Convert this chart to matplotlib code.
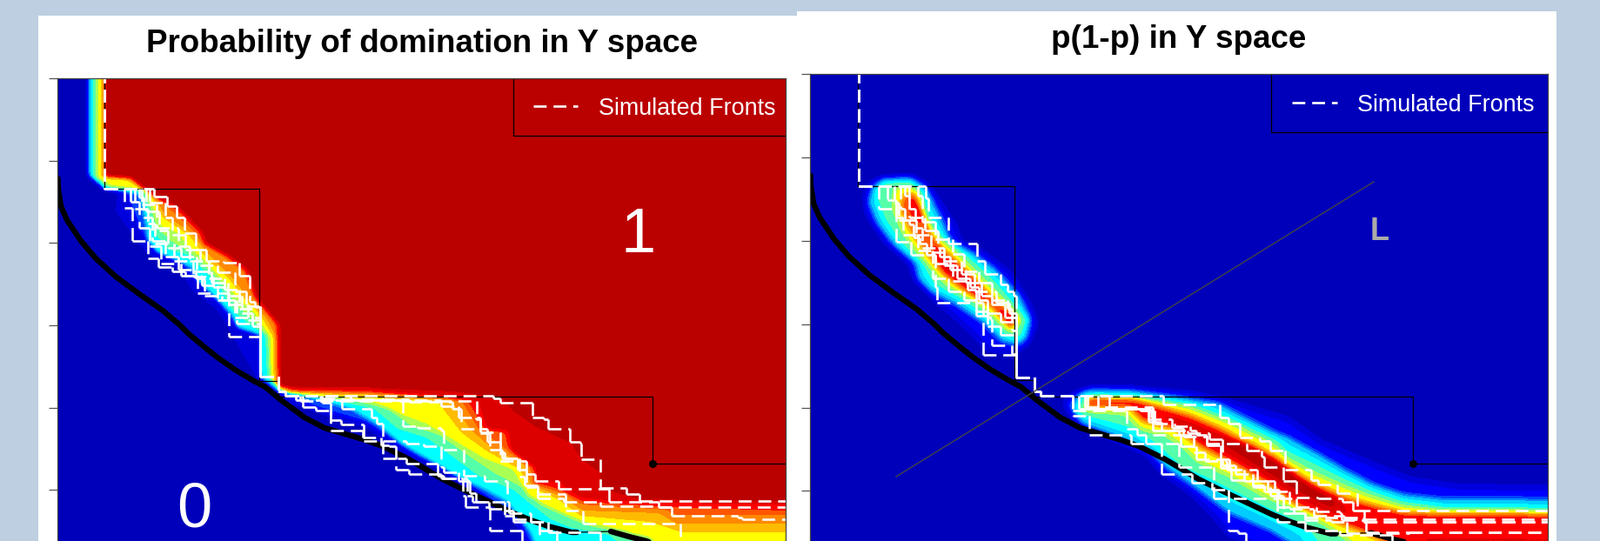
import numpy as np
import matplotlib
matplotlib.use("Agg")
import matplotlib.pyplot as plt
from matplotlib.patches import Rectangle
from matplotlib.path import Path
from matplotlib.colors import ListedColormap
from matplotlib.collections import LineCollection

W, H = 1839, 622
plt.rcParams['font.family'] = ['Liberation Sans', 'DejaVu Sans']

# ---------- shared values (axis units of the left panel)
y_ticks_1 = [90, 184.5, 279, 374, 468.6, 563]
y_ticks_2 = [85, 181, 277, 373, 468.6, 564]
true_front_a = [(66.5,205),(67,217),(70,237),(77,253),(93,277),(110,297),(133,318),(160,338),(187,357),(207,374),(217,384),(235,399),(250,411),(270,425),(290,437),
                (305,445),(323,460),(350,480),(373,492),(417,505),(440,513),(470,528),(507,550),(533,563),(590,590),(610,598),(630,605),(657,612),(663,612)]
true_front_b = [(663,612),(702,611)]
true_front_c = [(702,611),(723,617),(743,622),(790,640)]
emp_x = [120,120,298,320,750,903]
emp_y = [80,217,438,456,532.5,532.5]
dot = (750,532.5)

# ---------- colour scale: 16 steps
scale_colors = ["#0000BB","#0000DD","#0000FF","#0044FF","#0088FF","#00CCFF","#00FFFF","#55FFAA","#AAFF55",
                "#FFFF00","#FFBB00","#FF8800","#FF5500","#FF0000","#DD0000","#BB0000"]

# ---------- left panel: edges of the colour bands (p levels)
band_levels_1 = [1,3,6,7,8,9,10,11,12,13,14,15]
edge_outer = [(99,80),(99,201),(118,216),(135,223),(133,243),(150,267),(170,293),(207,310),(220,333),(250,357),(260,373),(296,437),(302,444),(329,464),(347,468),(380,480),(423,493),(463,523),(507,540),(533,560),(573,583),(592,603),(610,640)]
edge_blue = [(101,80),(101,202),(119,217),(145,220),(153,243),(160,260),(170,280),(203,297),(217,313),(250,347),(263,363),(273,377),(298,386),(298,434),(318,448),(345,462),(375,472),(420,485),(450,505),(480,525),(520,543),(550,565),(580,585),(600,605),(615,640)]
edge_cyan = [(103,80),(103,202),(120,217),(160,223),(167,253),(170,277),(180,290),(220,307),(227,323),(253,347),(267,363),(273,377),(299,385),(299,432),(320,450),(346,456),(367,460),(403,470),(437,490),(460,510),(490,527),(523,547),(557,563),(583,577),(608,610),(622,640)]
edge_green = [(107,80),(107,203),(122,216),(163,220),(172,247),(177,267),(193,287),(217,293),(230,307),(253,330),(267,357),(287,373),(305,385),(308,432),(323,450),(383,460),(430,470),(457,493),(490,503),(523,527),(550,547),(590,563),(607,577),(633,597),(657,607),(700,615),(730,640)]
edge_lime = [(110,80),(110,203),(125,215),(165,219),(176,247),(181,263),(198,278),(218,290),(232,302),(257,328),(270,350),(290,367),(308,387),(310,434),(325,450),(405,460),(447,470),(473,490),(505,500),(540,525),(570,545),(600,560),(620,580),(650,593),(680,605),(720,612),(745,640)]
edge_yellow = [(112,80),(112,203),(127,214),(167,218),(180,247),(185,260),(203,267),(220,287),(233,297),(260,327),(273,343),(293,360),(311,389),(311,436),(326,450),(430,463),(463,477),(490,487),(523,507),(557,527),(590,540),(597,553),(607,570),(640,587),(670,600),(747,617),(765,640)]
edge_amber = [(117,80),(117,203),(145,205),(173,223),(187,250),(217,270),(227,283),(237,297),(263,320),(280,343),(300,363),(315,390),(315,440),(330,452),(420,455),(503,462),(530,497),(557,517),(580,530),(598,540),(605,557),(640,573),(667,593),(747,600),(783,612),(903,612)]
edge_orange = [(118,80),(118,203),(148,205),(175,224),(190,248),(220,268),(230,280),(240,293),(265,317),(283,340),(305,365),(317,385),(317,441),(335,451),(420,453),(517,458),(540,493),(567,517),(603,533),(610,557),(643,570),(670,587),(757,590),(777,602),(903,602)]
edge_deep = [(119,80),(119,203),(149,205),(162,216),(177,225),(198,243),(225,268),(232,280),(258,295),(280,312),(292,342),(316,372),(319,442),(338,450),(420,452),(530,460),(550,493),(587,520),(610,538),(613,557),(647,567),(670,580),(763,585),(777,592),(903,592)]
edge_red = [(120,80),(120,203),(150,205),(163,216),(178,226),(205,241),(230,268),(234,280),(259,294),(282,311),(293,342),(318,373),(320,443),(340,449),(420,450),(537,460),(557,493),(580,497),(585,517),(615,540),(615,555),(640,562),(670,577),(763,583),(903,587)]
edge_dd = [(121,80),(121,203),(151,205),(164,216),(179,226),(206,240),(232,268),(236,280),(260,293),(283,310),(294,342),(320,373),(321,444),(342,448),(420,448),(540,459),(550,462),(560,493),(585,495),(588,517),(615,537),(617,553),(643,555),(667,572),(707,576),(903,579)]
edge_bb = [(122,80),(122,203),(152,205),(165,216),(180,226),(207,240),(233,268),(237,280),(262,293),(285,310),(295,342),(322,375),(322,445),(420,446),(523,450),(577,458),(590,473),(615,490),(657,510),(668,528),(690,543),(690,561),(737,575),(903,577)]
band_edges_1 = [edge_outer,edge_blue,edge_cyan,edge_green,edge_lime,edge_yellow,edge_amber,edge_orange,edge_deep,edge_red,edge_dd,edge_bb]

# ---------- left panel: simulated fronts (stair corners)
start_1 = [(120,80),(120,217)]
mid_1 = [(299,433),(320,450),(328,455)]
up_a = [(177,226),(192,237),(203,250),(212,268),(225,287),(237,300),(257,302),(275,317),(287,347),(293,353)]
up_b = [(143,239),(152,277),(170,297),(182,307),(198,312),(213,317),(227,337),(253,337),(263,387)]
up_c = [(160,227),(165,250),(175,277),(190,295),(205,310),(225,320),(235,340),(255,345),(270,365)]
up_d = [(163,235),(180,262),(205,283),(218,300),(240,320),(258,333),(275,355)]
up_e = [(155,240),(170,257),(178,280),(200,300),(222,318),(245,330),(262,350),(285,368)]
up_f = [(172,233),(190,250),(198,270),(213,287),(230,305),(250,313),(270,335),(283,352)]
up_g = [(168,243),(183,265),(193,285),(208,295),(226,312),(243,325),(262,340),(278,360),(290,375)]
up_h = [(150,232),(160,262),(172,283),(185,303),(208,317),(232,328),(250,345),(272,372)]
low_p = [(567,458),(575,463),(612,480),(625,482),(630,493),(655,508),(667,510),(668,528),(690,561),(720,568),(735,576),(903,576)]
low_q = [(345,461),(548,480),(552,497),(575,520),(580,527),(597,548),(603,558),(618,573),(648,577),(690,582),(757,583),(903,583)]
low_r = [(340,460),(507,467),(527,480),(547,482),(552,498),(563,517),(577,527),(595,540),(605,560),(618,568),(650,587),(670,602),(782,640)]
low_s = [(370,459),(470,462),(520,470),(530,493),(560,508),(575,530),(605,545),(615,553),(642,562),(700,577),(757,583),(772,593),(848,595),(853,597),(903,597)]
low_t = [(348,468),(363,472),(380,495),(417,503),(438,512),(447,513),(455,540),(470,545),(507,550),(532,570),(535,583),(563,610),(600,640)]
low_u = [(368,458),(370,463),(380,483),(392,488),(418,507),(440,527),(457,527),(467,533),(503,547),(510,550),(537,570),(543,577),(580,593),(590,597),(610,600),(620,640)]
low_v = [(370,458),(393,470),(427,480),(433,487),(440,507),(467,510),(487,513),(507,537),(510,543),(527,553),(540,567),(547,577),(562,585),(580,587),(590,600),(620,610),(640,640)]
low_w = [(403,460),(463,490),(480,492),(507,495),(510,517),(533,547),(557,553),(583,577),(585,590),(610,600),(630,612),(690,640)]
fronts_1 = [start_1+u+mid_1+l for u,l in zip([up_a,up_b,up_c,up_d,up_e,up_f,up_g,up_h],[low_p,low_t,low_q,low_v,low_r,low_s,low_w,low_u])]

# ---------- right panel: colour bands (own axis units)
blob_levels = [1.6,5.5,7,9,12,14,14]
blob_outer = [(1015,203),(1048,202),(1068,213),(1085,237),(1098,257),(1105,277),(1132,290),(1162,313),(1185,350),(1192,373),(1182,397),(1165,407),(1135,403),(1102,370),(1075,347),(1052,323),(1042,300),(1015,277),(995,247),(993,223),(1002,208)]
blob_cyan = [(1015,205),(1048,204),(1065,215),(1075,237),(1085,257),(1093,277),(1118,290),(1145,310),(1172,340),(1185,367),(1180,390),(1170,397),(1152,393),(1128,370),(1098,350),(1072,337),(1055,320),(1052,303),(1028,283),(1008,257),(998,233),(1002,215)]
blob_green = [(1018,208),(1045,208),(1060,220),(1068,247),(1082,270),(1112,293),(1142,320),(1165,347),(1182,367),(1175,387),(1165,390),(1152,383),(1128,360),(1098,340),(1072,327),(1060,303),(1035,280),(1017,253),(1008,230),(1008,217)]
blob_yellow = [(1028,215),(1048,214),(1057,223),(1063,250),(1075,270),(1102,293),(1135,327),(1162,353),(1173,368),(1163,383),(1152,373),(1122,347),(1092,330),(1072,310),(1052,287),(1038,267),(1027,240)]
blob_orange = [(1038,225),(1050,222),(1060,243),(1072,273),(1095,297),(1128,330),(1158,357),(1170,368),(1160,377),(1142,353),(1112,337),(1082,313),(1062,287),(1048,267),(1035,240)]
blob_red_a = [(1045,228),(1052,227),(1060,247),(1063,257),(1057,255),(1047,243)]
blob_red_b = [(1072,270),(1082,293),(1105,307),(1128,330),(1135,347),(1162,360),(1170,368),(1162,375),(1142,353),(1118,337),(1085,313),(1075,290)]
blob_polys = [blob_outer,blob_cyan,blob_green,blob_yellow,blob_orange,blob_red_a,blob_red_b]

ridge_levels = [1.6,5.5,7,9,13.5]
ridge_outer_up = [(1223,460),(1237,450),(1253,446),(1300,445),(1367,450),(1413,460),(1453,472),(1480,480),(1520,507),(1573,530),(1623,550),(1680,558),(1850,560)]
ridge_outer_lo = [(1223,467),(1237,487),(1277,505),(1317,523),(1333,543),(1367,567),(1393,593),(1413,617),(1433,622),(1450,640)]
ridge_cyan_up = [(1240,452),(1253,447),(1297,448),(1347,455),(1400,463),(1427,477),(1467,497),(1480,502),(1513,520),(1547,540),(1580,557),(1613,568),(1660,573),(1850,574)]
ridge_cyan_lo = [(1230,467),(1243,487),(1287,503),(1320,518),(1343,540),(1373,560),(1413,590),(1460,610),(1485,625),(1500,640)]
ridge_green_up = [(1247,455),(1310,455),(1367,463),(1413,480),(1467,505),(1480,517),(1513,533),(1547,550),(1580,565),(1613,576),(1660,583),(1850,584)]
ridge_green_lo = [(1235,475),(1253,480),(1300,493),(1327,510),(1357,537),(1387,550),(1433,573),(1467,590),(1500,605),(1515,625),(1535,640)]
ridge_yellow_up = [(1250,457),(1310,457),(1367,468),(1417,487),(1467,513),(1480,528),(1513,545),(1547,560),(1580,572),(1613,582),(1660,587),(1850,588)]
ridge_yellow_lo = [(1247,473),(1293,475),(1310,493),(1340,500),(1360,513),(1377,530),(1413,547),(1453,570),(1500,590),(1530,607),(1555,625),(1570,640)]
ridge_red_up = [(1250,458),(1300,459),(1367,478),(1400,492),(1467,527),(1480,540),(1513,558),(1547,573),(1580,582),(1613,590),(1660,591),(1850,592)]
ridge_red_lo = [(1250,467),(1300,468),(1313,483),(1353,493),(1380,513),(1413,530),(1460,557),(1490,580),(1530,597),(1570,612),(1597,625),(1620,640)]
ridge_core = [(1340,480),(1360,488),(1400,503),(1440,512),(1480,537),(1510,560),(1540,578),(1530,585),(1490,565),(1450,540),(1410,515),(1370,497)]
ridge_pairs = [(ridge_outer_up,ridge_outer_lo),(ridge_cyan_up,ridge_cyan_lo),(ridge_green_up,ridge_green_lo),(ridge_yellow_up,ridge_yellow_lo),(ridge_red_up,ridge_red_lo)]

# ---------- right panel: simulated fronts
start_2 = [(987,80),(987,214)]
mid_2 = [(1168,434),(1189,450),(1196,455)]
up2_a = [(1064,228),(1067,250),(1090,280),(1123,300),(1132,315),(1150,327),(1158,335),(1165,340)]
up2_b = [(1010,240),(1030,278),(1047,293),(1075,330),(1077,348),(1130,408)]
up2_c = [(1028,233),(1033,253),(1045,258),(1050,273),(1057,280),(1065,293),(1075,303),(1095,323),(1112,333),(1122,363),(1138,367),(1140,397),(1163,407)]
up2_d = [(1035,240),(1040,253),(1053,270),(1070,290),(1085,305),(1100,320),(1115,330),(1125,345),(1135,360),(1150,370)]
up2_e = [(1045,240),(1052,262),(1060,285),(1080,295),(1092,310),(1110,325),(1128,340),(1140,350),(1155,365)]
up2_f = [(1040,225),(1045,250),(1063,265),(1078,285),(1085,300),(1105,315),(1120,335),(1145,348),(1160,360)]
up2_g = [(1020,230),(1030,250),(1038,270),(1055,288),(1072,320),(1090,335),(1108,345),(1122,358),(1135,375),(1150,385)]
up2_h = [(1055,225),(1060,255),(1075,275),(1095,292),(1108,312),(1125,325),(1140,345),(1158,355),(1163,380)]
low2_a = [(1337,465),(1402,480),(1412,487),(1425,503),(1448,507),(1460,518),(1477,540),(1507,552),(1515,557),(1537,567),(1560,587),(1790,587.7)]
low2_b = [(1233,478),(1252,500),(1300,510),(1335,545),(1370,555),(1393,563),(1412,610),(1423,613),(1432,640)]
low2_c = [(1233,472),(1295,493),(1307,500),(1317,510),(1355,537),(1395,573),(1468,600),(1500,610),(1540,615),(1600,625),(1790,626)]
low2_d = [(1240,470),(1323,480),(1325,500),(1357,513),(1375,528),(1403,538),(1415,552),(1440,558),(1453,565),(1468,583),(1487,590),(1500,595),(1567,597),(1790,599)]
low2_e = [(1250,470),(1310,472),(1320,482),(1347,492),(1360,502),(1387,512),(1403,528),(1413,540),(1445,553),(1457,563),(1470,573),(1490,583),(1513,588),(1540,590),(1542,598),(1567,600),(1790,601)]
low2_f = [(1262,470),(1313,472),(1327,487),(1350,490),(1368,495),(1375,500),(1387,510),(1433,518),(1450,525),(1453,537),(1475,553),(1490,572),(1515,573),(1543,577),(1555,587),(1568,600),(1790,600)]
low2_g = [(1247,468),(1325,495),(1365,498),(1390,505),(1405,535),(1420,545),(1440,560),(1460,570),(1475,590),(1500,598),(1530,600),(1548,613),(1620,612),(1790,613)]
low2_h = [(1275,470),(1320,485),(1335,495),(1355,500),(1372,520),(1385,530),(1410,540),(1430,553),(1465,565),(1482,585),(1510,593),(1545,597),(1570,612),(1620,612),(1790,614)]
fronts_2 = [start_2+u+mid_2+l for u,l in zip([up2_a,up2_b,up2_c,up2_d,up2_e,up2_f,up2_g,up2_h],[low2_a,low2_b,low2_c,low2_d,low2_e,low2_f,low2_g,low2_h])]

diag_x = [1030,1579]
diag_y = [548,209]

title_1 = "Probability of domination in Y space"
title_2 = "p(1-p) in Y space"
legend_text = "Simulated Fronts"

# ---------- helpers
def px_axes(l, r, t, b):
    return fig.add_axes([l/W, 1-b/H, (r-l)/W, (b-t)/H])

def xy(pts):
    a = np.array(pts, dtype=float)
    return a[:,0], a[:,1]

def to_p2(pts):
    a = np.array(pts, dtype=float)
    return 931+(a[:,0]-66)*847.6/837, 85+(a[:,1]-90)*95.8/94.6

def level_field(polys, levels, x0, x1, y0, y1, sigma):
    """Surface whose level sets are the read band edges, softened like the source raster."""
    xs = np.arange(x0, x1)+0.5
    ys = np.arange(y0, y1)+0.5
    gx, gy = np.meshgrid(xs, ys)
    grid = np.column_stack([gx.ravel(), gy.ravel()])
    z = np.zeros(gx.size)
    for poly, lev in zip(polys, levels):
        inside = Path(np.array(poly, dtype=float)).contains_points(grid)
        z[inside] = np.maximum(z[inside], lev)
    z = z.reshape(gx.shape)
    fy = np.fft.fftfreq(z.shape[0])
    fx = np.fft.rfftfreq(z.shape[1])
    kernel = np.exp(-2*(np.pi*sigma)**2*(fy[:,None]**2+fx[None,:]**2))
    z = np.fft.irfft2(np.fft.rfft2(z)*kernel, s=z.shape)
    return z, (x0, x1, y1, y0)

def style_axes(ax, ticks):
    ax.set_xticks([])
    ax.set_yticks(ticks)
    ax.set_yticklabels([])
    ax.tick_params(axis='y', length=7.2, width=0.9, color="#555555")
    ax.spines['bottom'].set_visible(False)
    for s in ('top','left','right'):
        ax.spines[s].set_color("#444444")
        ax.spines[s].set_linewidth(0.9)
        ax.spines[s].set_zorder(12)

def draw_fronts(ax, fronts):
    segs = []
    for f in fronts:
        for (x0,y0),(x1,y1) in zip(f[:-1], f[1:]):
            if x1 != x0:
                segs.append([(x0,y0),(x1,y0)])
            if y1 != y0:
                segs.append([(x1,y0),(x1,y1)])
    lc = LineCollection(segs, colors="white", linewidths=1.9, linestyles=[(0,(5.6,3.0))], zorder=6, capstyle='butt')
    ax.add_collection(lc)

def legend_box(ax, x0, x1, y0, y1, lx0, lx1, ly, tx, ty):
    ax.plot([x0,x0,x1],[y0,y1,y1], color="black", lw=0.9, zorder=9)
    ax.plot([lx0,lx1],[ly,ly], color="white", lw=1.9, dashes=(5.6,3.0), zorder=9, dash_capstyle='butt')
    ax.text(tx, ty, legend_text, color="white", fontsize=19.4, ha='left', va='center', zorder=9)

cmap = ListedColormap(scale_colors)

fig = plt.figure(figsize=(W/100, H/100), dpi=100, facecolor="#BDCFE0")
fig.patches.append(Rectangle((44/W,0),(916-44)/W,(622-18)/H,transform=fig.transFigure,fc="white",ec="none",zorder=-2))
fig.patches.append(Rectangle((916/W,0),(1789-916)/W,(622-13)/H,transform=fig.transFigure,fc="white",ec="none",zorder=-1))

# ---------- left panel
ax1 = px_axes(66, 903, 90, 622)
polys_1 = [[(p[0][0],30)]+p+[(960,p[-1][1]),(960,30)] for p in band_edges_1]
z1, ext1 = level_field(polys_1, band_levels_1, 30, 960, 30, 680, 2.2)
ax1.imshow(z1+0.5, extent=ext1, cmap=cmap, vmin=0, vmax=16, interpolation='nearest', aspect='auto', zorder=1)
x, y = xy(true_front_a); ax1.plot(x, y, color="black", lw=4.6, zorder=5, solid_capstyle='round', solid_joinstyle='round')
x, y = xy(true_front_b); ax1.plot(x, y, color="black", lw=0.9, zorder=5)
x, y = xy(true_front_c); ax1.plot(x, y, color="black", lw=4.6, zorder=5, solid_capstyle='round', solid_joinstyle='round')
ax1.plot(emp_x, emp_y, color="black", lw=0.9, drawstyle='steps-post', zorder=4)
draw_fronts(ax1, fronts_1)
ax1.plot(*dot, 'o', color="black", ms=5.5, zorder=8)
legend_box(ax1, 590, 903, 90, 155.5, 613, 664, 122, 688, 125)
ax1.text(733.6, 272, "1", color="white", fontsize=52, ha='center', va='center', zorder=8)
ax1.text(223, 587, "0", color="white", fontsize=52, ha='center', va='center', zorder=8)
ax1.set_xlim(66, 903); ax1.set_ylim(622, 90)
style_axes(ax1, y_ticks_1)
fig.text(485/W, 1-50.5/H, title_1, fontsize=26.5, fontweight='bold', ha='center', va='center')

# ---------- right panel
ax2 = px_axes(931, 1778.6, 85, 622)
polys_2, levels_2 = [], []
for (up, lo), lev in zip(ridge_pairs, ridge_levels):
    polys_2.append(up + [(1850,680),(lo[-1][0],680)] + lo[::-1]); levels_2.append(lev)
polys_2.append(ridge_core); levels_2.append(15)
polys_2 += blob_polys; levels_2 += blob_levels
z2, ext2 = level_field(polys_2, levels_2, 900, 1850, 30, 680, 3.5)
ax2.imshow(z2+0.5, extent=ext2, cmap=cmap, vmin=0, vmax=16, interpolation='nearest', aspect='auto', zorder=1)
x, y = to_p2(true_front_a); ax2.plot(x, y, color="black", lw=4.6, zorder=5, solid_capstyle='round', solid_joinstyle='round')
x, y = to_p2(true_front_b); ax2.plot(x, y, color="black", lw=0.9, zorder=5)
x, y = to_p2(true_front_c); ax2.plot(x, y, color="black", lw=4.6, zorder=5, solid_capstyle='round', solid_joinstyle='round')
x, y = to_p2(list(zip(emp_x, emp_y))); ax2.plot(x, y, color="black", lw=0.9, drawstyle='steps-post', zorder=4)
draw_fronts(ax2, fronts_2)
x, y = to_p2([dot]); ax2.plot(x, y, 'o', color="black", ms=5.5, zorder=8)
ax2.plot(diag_x, diag_y, color="#444444", lw=1.0, zorder=7)
ax2.text(1586, 267, "L", color="#AAAAAA", fontsize=26, fontweight='bold', ha='center', va='center', zorder=8)
legend_box(ax2, 1461, 1778.6, 85, 152, 1484.5, 1537, 118, 1560, 121)
ax2.set_xlim(931, 1778.6); ax2.set_ylim(622, 85)
style_axes(ax2, y_ticks_2)
fig.text(1354.7/W, 1-45.5/H, title_2, fontsize=26.5, fontweight='bold', ha='center', va='center')

fig.savefig("out.png", dpi=100, facecolor=fig.get_facecolor())
